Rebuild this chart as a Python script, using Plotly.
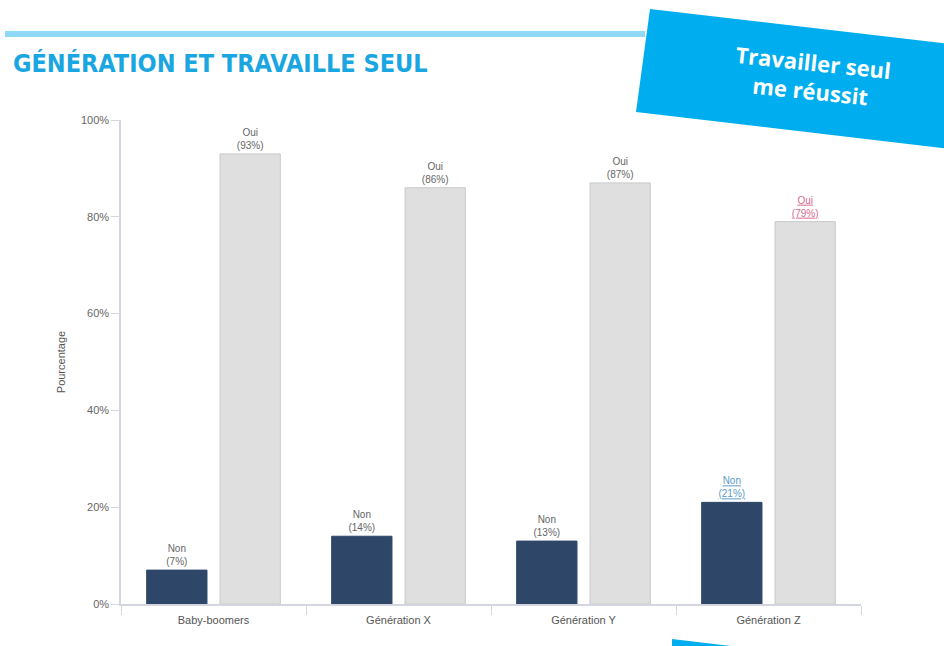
import plotly.graph_objects as go

categories = ["Baby-boomers", "Génération X", "Génération Y", "Génération Z"]
non_values = [7, 14, 13, 21]
oui_values = [93, 86, 87, 79]
non_label_colors = ["#666666", "#666666", "#666666", "#5b9cc9"]
oui_label_colors = ["#666666", "#666666", "#666666", "#d86a8e"]
y_ticks = [0, 20, 40, 60, 80, 100]
y_tick_text = ["0%", "20%", "40%", "60%", "80%", "100%"]

W, H = 944, 646
L, R, T, B = 121, 83, 120, 42
PW, PH = W - L - R, H - T - B


def px(x):
    return (x - L) / PW


def py(y):
    return (H - B - y) / PH


def label(name, v, i):
    if i == 3:
        return f"<u>{name}</u><br><u>({v}%)</u>"
    return f"{name}<br>({v}%)"


fig = go.Figure()
fig.add_trace(go.Bar(
    x=categories, y=non_values, name="Non",
    marker=dict(color="#2e4769", line=dict(color="#2e4769", width=1)),
    text=[label("Non", v, i) for i, v in enumerate(non_values)],
    textposition="outside", cliponaxis=False,
    textfont=dict(size=10, color=non_label_colors, family="Liberation Sans, Arial, sans-serif"),
))
fig.add_trace(go.Bar(
    x=categories, y=oui_values, name="Oui",
    marker=dict(color="#dfdfdf", line=dict(color="#c9c9c9", width=1)),
    text=[label("Oui", v, i) for i, v in enumerate(oui_values)],
    textposition="outside", cliponaxis=False,
    textfont=dict(size=10, color=oui_label_colors, family="Liberation Sans, Arial, sans-serif"),
))

shapes = [
    # top light-blue rule
    dict(type="rect", xref="paper", yref="paper", x0=px(5), x1=px(645), y0=py(31), y1=py(37),
         fillcolor="#8fd9f6", line=dict(width=0), layer="below"),
    # banner
    dict(type="path", xref="paper", yref="paper",
         path=f"M {px(650)} {py(9)} L {px(950)} {py(44)} L {px(950)} {py(149)} L {px(636)} {py(112)} Z",
         fillcolor="#00aeef", line=dict(width=0)),
    # bottom stripe
    dict(type="path", xref="paper", yref="paper",
         path=f"M {px(672)} {py(639)} L {px(950)} {py(672)} L {px(950)} {py(680)} L {px(672)} {py(680)} Z",
         fillcolor="#00aeef", line=dict(width=0)),
]

annotations = [
    dict(text="<b>GÉNÉRATION ET TRAVAILLE SEUL</b>", xref="paper", yref="paper",
         x=px(11), y=py(64), xanchor="left", yanchor="middle", showarrow=False,
         font=dict(size=25, color="#1aa6e0", family="Liberation Sans Narrow, DejaVu Sans Condensed, sans-serif")),
    dict(text="<b>Travailler seul<br>me réussit</b>", xref="paper", yref="paper",
         x=px(812), y=py(76), xanchor="center", yanchor="middle", showarrow=False,
         textangle=6,
         font=dict(size=22, color="white", family="Open Sans, sans-serif")),
]

fig.update_layout(
    width=W, height=H,
    margin=dict(l=L, r=R, t=T, b=B),
    paper_bgcolor="white", plot_bgcolor="white",
    barmode="group", bargap=0.207, bargroupgap=0.178,
    showlegend=False,
    shapes=shapes, annotations=annotations,
    font=dict(family="Liberation Sans, Arial, sans-serif", color="#555555"),
)
fig.update_xaxes(
    showline=True, linecolor="#d3d6de", linewidth=1.5,
    ticks="outside", tickson="boundaries", ticklen=9, tickcolor="#d3d6de",
    tickfont=dict(size=11, color="#555555"), showgrid=False,
    ticklabelstandoff=5,
)
fig.update_yaxes(
    range=[0, 100], tickvals=y_ticks, ticktext=y_tick_text,
    showline=True, linecolor="#d3d6de", linewidth=1.5,
    ticks="outside", ticklen=8, tickcolor="#d3d6de",
    tickfont=dict(size=11, color="#666666"), showgrid=False, zeroline=False,
    title=dict(text="Pourcentage", font=dict(size=11, color="#555555"), standoff=13),
)

fig.write_html("out.html", config={"displayModeBar": False},
               post_script="document.body.style.margin='0';document.body.style.overflow='hidden';")
